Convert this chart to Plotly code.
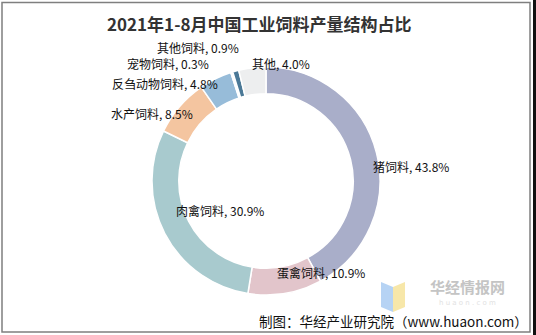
import plotly.graph_objects as go

labels = ["猪饲料", "蛋禽饲料", "肉禽饲料", "水产饲料", "反刍动物饲料", "宠物饲料", "其他饲料", "其他"]
values = [43.8, 10.9, 30.9, 8.5, 4.8, 0.3, 0.9, 4.0]
colors = ["#A9AEC9", "#E2C5CB", "#A8CACE", "#F4C5A0", "#97BCD9", "#FFFFFF", "#4B7997", "#EDEEEF"]

# label anchor positions (pixels in the 536x335 canvas)
label_pos = {
    "猪饲料": (411, 167),
    "蛋禽饲料": (321, 272),
    "肉禽饲料": (220, 210),
    "水产饲料": (152, 113),
    "反刍动物饲料": (165, 83),
    "宠物饲料": (168, 63),
    "其他饲料": (198, 47),
    "其他": (281, 63),
}

W, H = 536, 335
cx, cy, r = 266, 181, 114

fig = go.Figure(go.Pie(
    labels=labels, values=values, sort=False, direction="clockwise", rotation=0,
    hole=0.765, textinfo="none", hoverinfo="label+percent",
    marker=dict(colors=colors, line=dict(color="white", width=1.5)),
    domain=dict(x=[(cx - r) / W, (cx + r) / W], y=[(H - cy - r) / H, (H - cy + r) / H]),
    showlegend=False,
))

annos = []
for lab, val in zip(labels, values):
    px, py = label_pos[lab]
    annos.append(dict(x=px / W, y=1 - py / H, xref="paper", yref="paper",
                      text=f"{lab}, {val:.1f}%", showarrow=False,
                      font=dict(family="Noto Sans CJK SC", size=12, color="#111111"),
                      xanchor="center", yanchor="middle"))

annos.append(dict(x=259 / W, y=1 - 24 / H, xref="paper", yref="paper",
                  text="<b>2021年1-8月中国工业饲料产量结构占比</b>", showarrow=False,
                  font=dict(family="Noto Sans CJK SC", size=17, color="#333333"),
                  xanchor="center", yanchor="middle"))
annos.append(dict(x=530 / W, y=1 - 321 / H, xref="paper", yref="paper",
                  text="制图：华经产业研究院（www.huaon.com）", showarrow=False,
                  font=dict(family="Noto Sans CJK SC", size=13.5, color="#111111"),
                  xanchor="right", yanchor="middle"))
annos.append(dict(x=467 / W, y=1 - 286 / H, xref="paper", yref="paper",
                  text="<b>华经情报网</b>", showarrow=False,
                  font=dict(family="Noto Sans CJK SC", size=15, color="#C4C4C4"),
                  xanchor="center", yanchor="middle"))
annos.append(dict(x=467 / W, y=1 - 303 / H, xref="paper", yref="paper",
                  text="h u a o n . c o m", showarrow=False,
                  font=dict(family="DejaVu Sans", size=7, color="#E2E2E2"),
                  xanchor="center", yanchor="middle"))

def px2(x, y):
    return x / W, 1 - y / H

shapes = [
    dict(type="rect", xref="paper", yref="paper", x0=2 / W, x1=530 / W, y0=1 - 332 / H, y1=1 - 2.5 / H,
         line=dict(color="#7F7F7F", width=1.5)),
    dict(type="rect", xref="paper", yref="paper", x0=533 / W, x1=1, y0=0, y1=1,
         line=dict(width=0), fillcolor="#111111"),
]
# small logo (book shape)
b = [px2(381, 282), px2(393, 287), px2(393, 312), px2(381, 307)]
yv = [px2(393, 287), px2(405, 282), px2(405, 307), px2(393, 312)]
for pts, col in ((b, "#A9CBF2"), (yv, "#F6E39A")):
    path = "M " + " L ".join(f"{x},{y}" for x, y in pts) + " Z"
    shapes.append(dict(type="path", xref="paper", yref="paper", path=path,
                       fillcolor=col, line=dict(width=0), opacity=0.85))

fig.update_layout(
    width=W, height=H, margin=dict(l=0, r=0, t=0, b=0),
    paper_bgcolor="white", plot_bgcolor="white",
    annotations=annos, shapes=shapes,
)
fig.write_html("out.html")
